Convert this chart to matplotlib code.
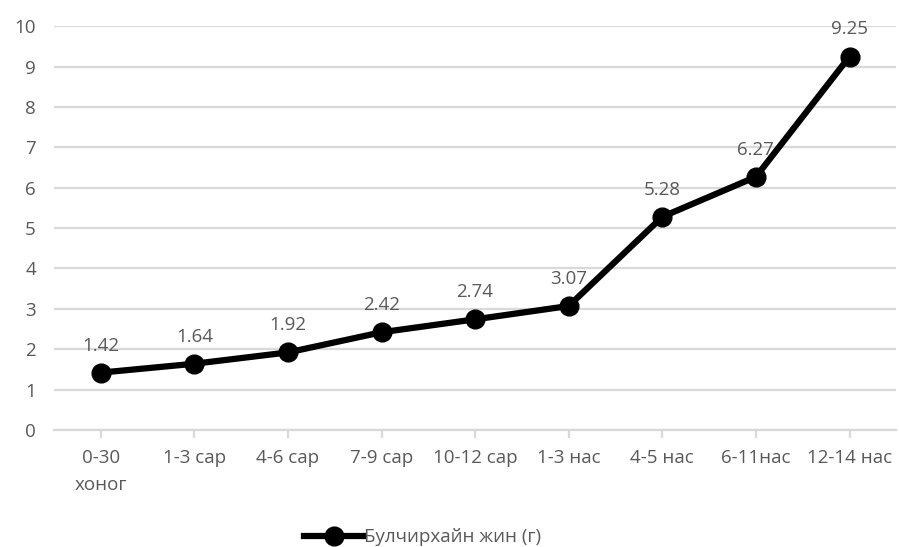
import matplotlib
matplotlib.use("Agg")
import matplotlib.pyplot as plt
from matplotlib.lines import Line2D

plt.rcParams['font.family'] = ['Open Sans', 'DejaVu Sans']

categories = ['0-30\nхоног', '1-3 сар', '4-6 сар', '7-9 сар', '10-12 сар',
              '1-3 нас', '4-5 нас', '6-11нас', '12-14 нас']
weights = [1.42, 1.64, 1.92, 2.42, 2.74, 3.07, 5.28, 6.27, 9.25]
series_name = 'Булчирхайн жин (г)'

text_color = '#595959'
grid_color = '#d9d9d9'
fs = 13.5

fig = plt.figure(figsize=(8.99, 5.47), dpi=100)
ax = fig.add_axes([0.06, 0.214, 0.937, 0.738])

x = list(range(len(categories)))
ax.plot(x, weights, color='black', lw=4.5, marker='o', ms=13.5, zorder=3,
        solid_capstyle='round')
for xi, v in zip(x, weights):
    ax.annotate(f'{v:.2f}', (xi, v), xytext=(0, 13), textcoords='offset points',
                ha='center', va='bottom', fontsize=fs, color=text_color)

ax.set_ylim(0, 10)
ax.set_xlim(-0.5, len(categories) - 0.5)
ax.set_yticks(range(0, 11))
ax.yaxis.grid(True, color=grid_color, lw=1.6)
ax.set_axisbelow(True)
for s in ['top', 'right', 'left']:
    ax.spines[s].set_visible(False)
ax.spines['bottom'].set_color(grid_color)
ax.spines['bottom'].set_linewidth(1.6)

ax.set_xticks(x)
ax.set_xticklabels(categories, fontsize=fs, color=text_color, linespacing=1.6)
ax.tick_params(axis='x', length=6, width=1.6, color=grid_color, pad=8)
ax.tick_params(axis='y', length=0, labelsize=fs, labelcolor=text_color, pad=13)

handle = Line2D([], [], color='black', lw=4.5, marker='o', ms=13.5)
fig.legend([handle], [series_name], loc='center', bbox_to_anchor=(0.47, 0.018),
           frameon=False, fontsize=fs, labelcolor=text_color, handlelength=3.2,
           handletextpad=0.0)

fig.savefig('out.png', dpi=100)
